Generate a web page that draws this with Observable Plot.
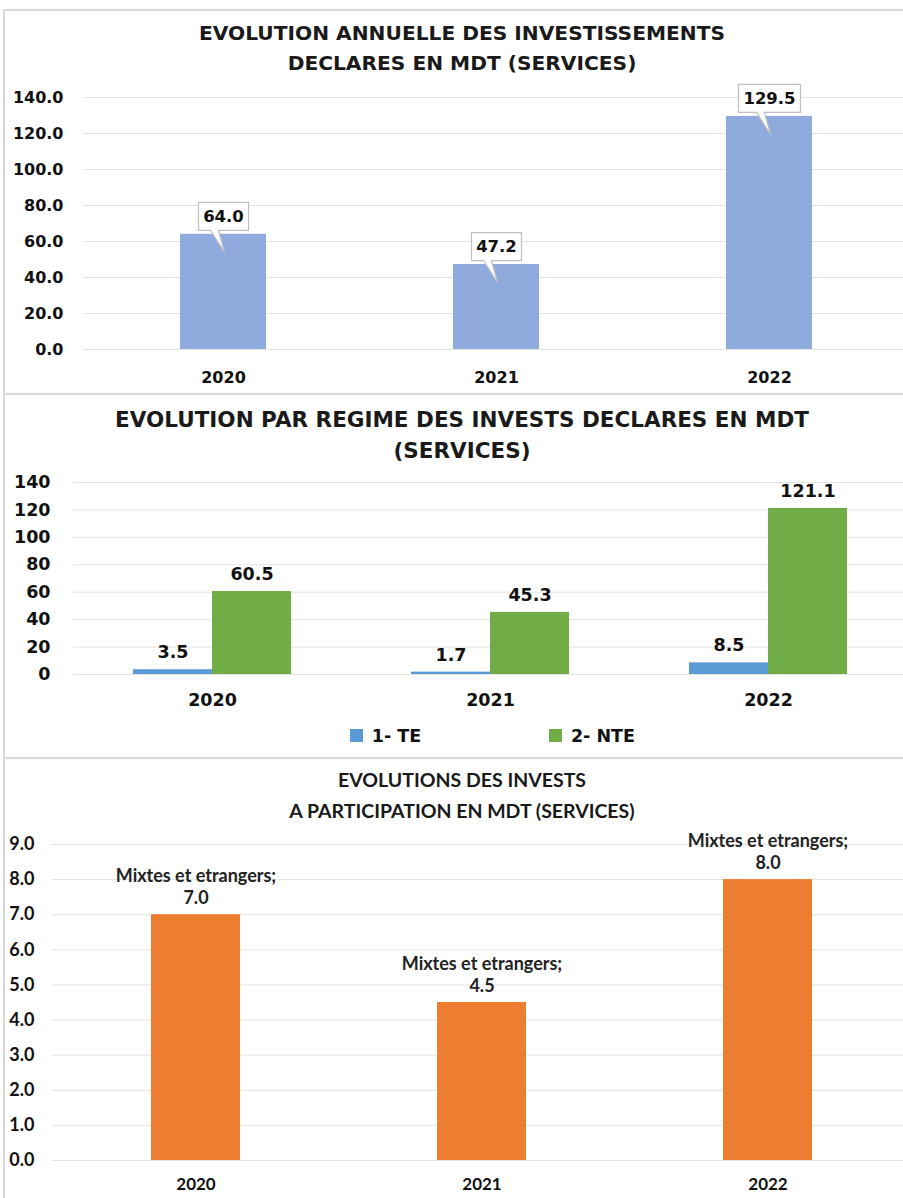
<!DOCTYPE html>
<html>
<head>
<meta charset="utf-8">
<script src="https://cdn.jsdelivr.net/npm/d3@7"></script>
<script src="https://cdn.jsdelivr.net/npm/@observablehq/plot@0.6"></script>
<style>
  html, body { margin: 0; padding: 0; background: #fff; }
  body { width: 903px; height: 1198px; position: relative; overflow: hidden; }
  .panel { position: absolute; left: 3px; width: 940px; border-top: 2px solid #d9d9d9; border-left: 2px solid #d9d9d9; box-sizing: border-box; }
  .title { position: absolute; left: 0; width: 924px; text-align: center; color: #1a1a1a; font-weight: bold; white-space: nowrap; }
  .t12 { font-family: "DejaVu Sans", sans-serif; line-height: 30px; }
  .t3 { font-family: Lato, sans-serif; font-size: 19.5px; line-height: 31px; }
  .chart { position: absolute; left: 0; }
  #leg2 { position: absolute; left: 350px; top: 719px; }
  #leg2 span { margin-right: 128px !important; }
</style>
</head>
<body>
<div class="panel" style="top:9px;height:386px"></div>
<div class="panel" style="top:393px;height:366px"></div>
<div class="panel" style="top:757px;height:500px"></div>

<div class="title t12" style="top:18px;font-size:20.2px">EVOLUTION ANNUELLE DES INVESTISSEMENTS<br>DECLARES EN MDT (SERVICES)</div>
<div class="title t12" style="top:404px;font-size:21.5px;line-height:31px">EVOLUTION PAR REGIME DES INVESTS DECLARES EN MDT<br>(SERVICES)</div>
<div class="title t3" style="top:764px">EVOLUTIONS DES INVESTS<br>A PARTICIPATION EN MDT (SERVICES)</div>

<div id="c1" class="chart" style="top:80px"></div>
<div id="c2" class="chart" style="top:460px"></div>
<div id="leg2"></div>
<div id="c3" class="chart" style="top:830px"></div>

<script>
// ---------- data ----------
const years = ["2020", "2021", "2022"];

// Chart 1: annual declared investments (MDT)
const totalValues = [64.0, 47.2, 129.5];
const ticks1 = [0, 20, 40, 60, 80, 100, 120, 140];

// Chart 2: by regime
const regimes = ["1- TE", "2- NTE"];
const teValues = [3.5, 1.7, 8.5];
const nteValues = [60.5, 45.3, 121.1];
const ticks2 = [0, 20, 40, 60, 80, 100, 120, 140];

// Chart 3: participation
const participationLabel = "Mixtes et etrangers;";
const participationValues = [7.0, 4.5, 8.0];
const ticks3 = [0, 1, 2, 3, 4, 5, 6, 7, 8, 9];

// ---------- tables ----------
const t1 = years.map((y, i) => ({year: y, value: totalValues[i]}));
const t2te = years.map((y, i) => ({year: y, regime: regimes[0], value: teValues[i]}));
const t2nte = years.map((y, i) => ({year: y, regime: regimes[1], value: nteValues[i]}));
const t3 = years.map((y, i) => ({year: y, label: participationLabel, value: participationValues[i]}));

const fmt1 = d3.format(".1f");
const gridColor = "#e3e3e3";

// callout symbol: box above the anchor point with a tail pointing down into the bar
const callout = {
  draw(ctx, size) {
    const hw = Math.sqrt(size / Math.PI);
    ctx.moveTo(-hw, -32);
    ctx.lineTo(hw, -32);
    ctx.lineTo(hw, -4);
    ctx.lineTo(-5, -4);
    ctx.lineTo(1, 18);
    ctx.lineTo(-13, -4);
    ctx.lineTo(-hw, -4);
    ctx.closePath();
  }
};

// ---------- chart 1 ----------
const chart1 = Plot.plot({
  width: 903, height: 313,
  marginTop: 17, marginBottom: 44, marginLeft: 84, marginRight: 0,
  style: {fontFamily: "DejaVu Sans, sans-serif", fontWeight: "bold", color: "#111", background: "transparent"},
  x: {domain: years, range: [84, 908], paddingInner: 0.686, paddingOuter: 0.347},
  y: {domain: [0, 140]},
  r: {type: "identity"},
  marks: [
    Plot.gridY(ticks1, {stroke: gridColor, strokeOpacity: 1}),
    Plot.barY(t1, {x: "year", y: "value", fill: "#8FAADC"}),
    Plot.dot(t1, {x: "year", y: "value", r: d => 6 * fmt1(d.value).length + 1, symbol: callout, fill: "white", stroke: "#bfbfbf", strokeWidth: 1.2}),
    Plot.text(t1, {x: "year", y: "value", text: d => fmt1(d.value), dy: -18, fontSize: 16.5, fontWeight: "bold", fill: "#111"}),
    Plot.axisY(ticks1, {tickSize: 0, tickPadding: 21, tickFormat: fmt1, fontSize: 16, label: null}),
    Plot.axisX({tickSize: 0, tickPadding: 22, fontSize: 16, label: null})
  ]
});
document.getElementById("c1").append(chart1);

// ---------- chart 2 ----------
const colors2 = ["#5B9BD5", "#70AD47"];
const chart2 = Plot.plot({
  width: 903, height: 298,
  marginTop: 22, marginBottom: 84, marginLeft: 73, marginRight: 0,
  style: {fontFamily: "DejaVu Sans, sans-serif", fontWeight: "bold", color: "#111", background: "transparent"},
  x: {domain: years, range: [73, 907], paddingInner: 0.432, paddingOuter: 0.216},
  y: {domain: [0, 140]},
  marks: [
    Plot.gridY(ticks2, {stroke: gridColor, strokeOpacity: 1}),
    Plot.barY(t2te, {x: "year", y: "value", fill: colors2[0], insetRight: 79}),
    Plot.barY(t2nte, {x: "year", y: "value", fill: colors2[1], insetLeft: 79}),
    Plot.text(t2te, {x: "year", y: "value", text: d => fmt1(d.value), dx: -39.5, dy: -17, fontSize: 17.5, fill: "#111"}),
    Plot.text(t2nte, {x: "year", y: "value", text: d => fmt1(d.value), dx: 39.5, dy: -17, fontSize: 17.5, fill: "#111"}),
    Plot.axisY(ticks2, {tickSize: 0, tickPadding: 23, fontSize: 17.5, label: null}),
    Plot.axisX({tickSize: 0, tickPadding: 19, fontSize: 17.5, label: null})
  ]
});
document.getElementById("c2").append(chart2);

const legend2 = Plot.legend({
  color: {domain: regimes, range: colors2},
  swatchSize: 13,
  style: {fontFamily: "DejaVu Sans, sans-serif", fontWeight: "bold", fontSize: "17.5px", color: "#111"}
});
document.getElementById("leg2").append(legend2);

// ---------- chart 3 ----------
const chart3 = Plot.plot({
  width: 903, height: 368,
  marginTop: 14, marginBottom: 38, marginLeft: 52, marginRight: 0,
  style: {fontFamily: "Lato, sans-serif", fontWeight: "bold", color: "#111", background: "transparent"},
  x: {domain: years, range: [52, 911], paddingInner: 0.689, paddingOuter: 0.346},
  y: {domain: [0, 9]},
  marks: [
    Plot.gridY(ticks3, {stroke: gridColor, strokeOpacity: 1}),
    Plot.barY(t3, {x: "year", y: "value", fill: "#ED7D31"}),
    Plot.text(t3, {x: "year", y: "value", text: d => fmt1(d.value), dy: -16, fontSize: 18, fill: "#222"}),
    Plot.text(t3, {x: "year", y: "value", text: "label", dy: -38, fontSize: 18, fill: "#222"}),
    Plot.axisY(ticks3, {tickSize: 0, tickPadding: 18, tickFormat: fmt1, fontSize: 18, label: null}),
    Plot.axisX({tickSize: 0, tickPadding: 17, fontSize: 17, label: null})
  ]
});
document.getElementById("c3").append(chart3);
</script>
</body>
</html>
